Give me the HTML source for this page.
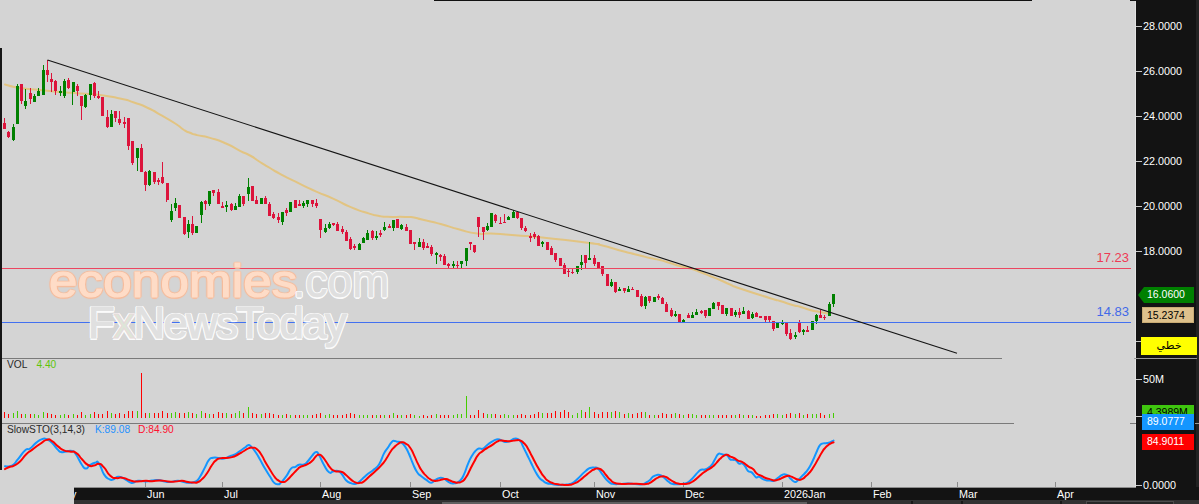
<!DOCTYPE html>
<html lang="en"><head><meta charset="utf-8"><title>Chart</title>
<style>
html,body{margin:0;padding:0;background:#d4d4d4;}
body{width:1199px;height:504px;overflow:hidden;position:relative;font-family:"Liberation Sans","DejaVu Sans",sans-serif;}
.abs{position:absolute;}
#chart{position:absolute;left:0;top:0;}
.ax{position:absolute;color:#fff;font-size:10.8px;line-height:12px;white-space:nowrap;}
.tag{position:absolute;font-size:10.5px;line-height:16px;text-align:left;padding-left:5px;white-space:nowrap;box-sizing:border-box;}
.lbl{position:absolute;font-size:10.2px;line-height:11px;white-space:nowrap;}
.wm{position:absolute;white-space:nowrap;transform-origin:left top;display:block;}
.wm1a{left:49px;top:256px;font-size:45.5px;line-height:52px;color:#fedcc7;-webkit-text-stroke:1.2px #fedcc7;text-shadow:1.50px 0.00px 0.9px #f6bc9c,1.06px 1.06px 0.9px #f6bc9c,0.00px 1.50px 0.9px #f6bc9c,-1.06px 1.06px 0.9px #f6bc9c,-1.50px 0.00px 0.9px #f6bc9c,-1.06px -1.06px 0.9px #f6bc9c,-0.00px -1.50px 0.9px #f6bc9c,1.06px -1.06px 0.9px #f6bc9c;transform:scaleX(1.12);letter-spacing:0.2px;}
.wm1b{left:293px;top:254px;font-size:47px;line-height:54px;color:#dfdfdf;-webkit-text-stroke:0.6px #dfdfdf;text-shadow:1.50px 0.00px 0.6px #fbfbfb,1.06px 1.06px 0.6px #fbfbfb,0.00px 1.50px 0.6px #fbfbfb,-1.06px 1.06px 0.6px #fbfbfb,-1.50px 0.00px 0.6px #fbfbfb,-1.06px -1.06px 0.6px #fbfbfb,-0.00px -1.50px 0.6px #fbfbfb,1.06px -1.06px 0.6px #fbfbfb;transform:scaleX(0.945);}
.wm2{left:88px;top:297px;font-size:43px;line-height:50px;color:#e0e0e0;-webkit-text-stroke:1.1px #e0e0e0;text-shadow:1.70px 0.00px 0.6px #fbfbfb,1.20px 1.20px 0.6px #fbfbfb,0.00px 1.70px 0.6px #fbfbfb,-1.20px 1.20px 0.6px #fbfbfb,-1.70px 0.00px 0.6px #fbfbfb,-1.20px -1.20px 0.6px #fbfbfb,-0.00px -1.70px 0.6px #fbfbfb,1.20px -1.20px 0.6px #fbfbfb;transform:scale(1.015,1.035);letter-spacing:-1.5px;}
.wm2 i{font-style:normal;color:#dde6d8;-webkit-text-stroke-color:#e6dada;}

</style></head><body>
<div class="abs" style="left:0;top:48px;width:2px;height:422px;background:#161616"></div>
<div class="abs" style="left:434px;top:0;width:598px;height:1px;background:#111"></div>
<div class="abs" style="left:1130px;top:0;width:69px;height:1px;background:#131313"></div>
<div class="abs" style="left:1136px;top:0;width:63px;height:504px;background:#131313"></div>
<div class="abs" style="left:1135px;top:1px;width:1px;height:486px;background:#e2e2e2"></div>
<div class="abs" style="left:1196px;top:0;width:3px;height:504px;background:#222"></div>
<div class="abs" style="left:74px;top:487px;width:1125px;height:17px;background:#131313"></div>
<div class="abs" style="left:74px;top:487px;width:1062px;height:1px;background:#8c8c8c"></div>
<div class="abs" style="left:74px;top:500px;width:1125px;height:4px;background:#323232"></div>
<div class="abs" style="left:442px;top:502px;width:365px;height:2px;background:#606060"></div>
<div class="abs" style="left:911px;top:501px;width:2px;height:3px;background:#181818"></div>
<div class="abs" style="left:961px;top:501px;width:2px;height:3px;background:#181818"></div>
<div class="abs" style="left:1060px;top:501px;width:2px;height:3px;background:#181818"></div>
<div class="abs" style="left:1086px;top:501px;width:88px;height:3px;background:#262626;border:1px solid #4c4c4c;border-bottom:none;box-sizing:border-box"></div>
<svg id="chart" width="1199" height="504" viewBox="0 0 1199 504">
<g shape-rendering="crispEdges">
<rect x="2" y="358" width="1000" height="1" fill="#7a7a7a"/>
<rect x="2" y="423" width="1012" height="1" fill="#7a7a7a"/>
<rect x="1134" y="358" width="63" height="1" fill="#9a9a9a"/>
<rect x="1130" y="423" width="6" height="1" fill="#7a7a7a"/>
<rect x="1195" y="423" width="4" height="1" fill="#9a9a9a"/>
</g>
<path d="M5.0 84.5C10.0 85.7 8.3 86.2 20.0 88.0C31.7 89.8 26.7 88.7 40.0 90.0C53.3 91.3 46.7 90.8 60.0 92.0C73.3 93.2 66.7 92.5 80.0 93.5C93.3 94.5 86.7 93.3 100.0 95.0C113.3 96.7 108.7 96.0 120.0 98.5C131.3 101.0 124.7 99.3 134.0 102.5C143.3 105.7 138.7 103.6 148.0 108.0C157.3 112.4 152.7 110.4 162.0 115.7C171.3 121.0 168.7 119.2 176.0 124.0C183.3 128.8 179.3 127.1 184.0 130.0C188.7 132.9 185.7 131.1 190.0 132.8C194.3 134.5 190.3 133.4 197.0 135.1C203.7 136.8 200.3 135.1 210.0 137.9C219.7 140.7 216.0 139.2 226.0 143.5C236.0 147.8 232.0 146.8 240.0 150.8C248.0 154.8 243.3 151.8 250.0 155.5C256.7 159.2 253.3 157.8 260.0 162.0C266.7 166.2 263.3 164.1 270.0 168.0C276.7 171.9 270.7 168.8 280.0 173.8C289.3 178.8 286.1 177.1 298.0 182.9C309.9 188.7 303.8 186.0 315.7 191.3C327.6 196.6 321.7 193.5 333.6 198.8C345.5 204.1 339.5 202.4 351.4 207.3C363.3 212.2 360.4 210.8 369.3 213.6C378.2 216.4 372.3 214.6 378.2 215.7C384.1 216.8 378.1 216.4 387.0 216.8C395.9 217.2 396.0 216.6 405.0 216.9C414.0 217.2 408.0 216.6 414.0 217.6C420.0 218.6 414.1 217.7 423.0 219.8C431.9 221.9 428.8 220.8 440.7 224.0C452.6 227.2 446.5 226.1 458.6 229.3C470.7 232.5 466.2 232.2 477.0 233.6C487.8 235.0 476.3 232.9 491.0 233.6C505.7 234.3 504.7 234.5 521.0 235.7C537.3 236.9 517.2 234.9 540.0 237.3C562.8 239.7 569.0 240.4 589.5 243.0C610.0 245.6 589.6 242.3 601.4 245.2C613.2 248.1 612.1 248.4 625.0 251.8C637.9 255.2 631.7 253.4 640.0 255.5C648.3 257.6 643.3 256.5 650.0 258.0C656.7 259.5 653.3 258.3 660.0 260.0C666.7 261.7 663.3 261.0 670.0 263.0C676.7 265.0 673.3 264.2 680.0 266.0C686.7 267.8 683.3 266.5 690.0 268.5C696.7 270.5 693.3 269.5 700.0 272.0C706.7 274.5 703.3 273.3 710.0 276.0C716.7 278.7 713.3 277.2 720.0 280.0C726.7 282.8 723.3 281.7 730.0 284.5C736.7 287.3 726.8 284.0 740.0 288.5C753.2 293.0 756.2 293.8 769.5 298.0C782.8 302.2 772.1 298.6 780.0 301.0C787.9 303.4 786.6 303.3 793.3 305.2C800.0 307.1 794.4 305.1 800.0 306.7C805.6 308.3 803.3 308.2 810.0 310.0C816.7 311.8 813.7 310.8 820.0 312.0C826.3 313.2 826.0 313.0 829.0 313.5" fill="none" stroke="#e2c482" stroke-width="2" stroke-linejoin="round" stroke-linecap="round"/>
<g shape-rendering="crispEdges">
<rect x="4" y="118" width="1" height="11" fill="#dc143c"/>
<rect x="3" y="123" width="3" height="6" fill="#dc143c"/>
<rect x="8" y="131" width="1" height="7" fill="#dc143c"/>
<rect x="7" y="132" width="3" height="5" fill="#dc143c"/>
<rect x="13" y="124" width="1" height="17" fill="#008000"/>
<rect x="12" y="127" width="3" height="13" fill="#008000"/>
<rect x="17" y="84" width="1" height="40" fill="#008000"/>
<rect x="16" y="86" width="3" height="38" fill="#008000"/>
<rect x="21" y="84" width="1" height="20" fill="#dc143c"/>
<rect x="20" y="84" width="3" height="17" fill="#dc143c"/>
<rect x="25" y="89" width="1" height="20" fill="#008000"/>
<rect x="24" y="101" width="3" height="5" fill="#008000"/>
<rect x="30" y="88" width="1" height="16" fill="#dc143c"/>
<rect x="29" y="93" width="3" height="6" fill="#dc143c"/>
<rect x="34" y="94" width="1" height="8" fill="#008000"/>
<rect x="33" y="96" width="3" height="6" fill="#008000"/>
<rect x="38" y="88" width="1" height="8" fill="#008000"/>
<rect x="37" y="91" width="3" height="5" fill="#008000"/>
<rect x="43" y="65" width="1" height="30" fill="#008000"/>
<rect x="42" y="70" width="3" height="25" fill="#008000"/>
<rect x="47" y="60" width="1" height="22" fill="#dc143c"/>
<rect x="46" y="70" width="3" height="5" fill="#dc143c"/>
<rect x="51" y="73" width="1" height="19" fill="#dc143c"/>
<rect x="50" y="79" width="3" height="3" fill="#dc143c"/>
<rect x="55" y="80" width="1" height="15" fill="#dc143c"/>
<rect x="54" y="81" width="3" height="10" fill="#dc143c"/>
<rect x="60" y="86" width="1" height="10" fill="#008000"/>
<rect x="59" y="91" width="3" height="2" fill="#008000"/>
<rect x="64" y="79" width="1" height="19" fill="#008000"/>
<rect x="63" y="81" width="3" height="15" fill="#008000"/>
<rect x="68" y="78" width="1" height="11" fill="#dc143c"/>
<rect x="67" y="80" width="3" height="8" fill="#dc143c"/>
<rect x="72" y="82" width="1" height="23" fill="#008000"/>
<rect x="72" y="82" width="3" height="10" fill="#008000"/>
<rect x="77" y="84" width="1" height="12" fill="#dc143c"/>
<rect x="76" y="86" width="3" height="5" fill="#dc143c"/>
<rect x="81" y="96" width="1" height="24" fill="#dc143c"/>
<rect x="80" y="96" width="3" height="10" fill="#dc143c"/>
<rect x="85" y="94" width="1" height="14" fill="#008000"/>
<rect x="84" y="95" width="3" height="12" fill="#008000"/>
<rect x="90" y="84" width="1" height="16" fill="#008000"/>
<rect x="89" y="84" width="3" height="11" fill="#008000"/>
<rect x="94" y="82" width="1" height="16" fill="#dc143c"/>
<rect x="93" y="83" width="3" height="13" fill="#dc143c"/>
<rect x="98" y="91" width="1" height="8" fill="#dc143c"/>
<rect x="97" y="96" width="3" height="2" fill="#dc143c"/>
<rect x="102" y="97" width="1" height="19" fill="#dc143c"/>
<rect x="101" y="97" width="3" height="19" fill="#dc143c"/>
<rect x="107" y="110" width="1" height="18" fill="#dc143c"/>
<rect x="106" y="117" width="3" height="10" fill="#dc143c"/>
<rect x="111" y="110" width="1" height="17" fill="#008000"/>
<rect x="110" y="114" width="3" height="13" fill="#008000"/>
<rect x="115" y="111" width="1" height="11" fill="#dc143c"/>
<rect x="114" y="111" width="3" height="7" fill="#dc143c"/>
<rect x="119" y="111" width="1" height="14" fill="#dc143c"/>
<rect x="118" y="119" width="3" height="4" fill="#dc143c"/>
<rect x="124" y="117" width="1" height="11" fill="#dc143c"/>
<rect x="123" y="122" width="3" height="2" fill="#dc143c"/>
<rect x="128" y="118" width="1" height="32" fill="#dc143c"/>
<rect x="127" y="118" width="3" height="28" fill="#dc143c"/>
<rect x="132" y="141" width="1" height="24" fill="#dc143c"/>
<rect x="131" y="141" width="3" height="22" fill="#dc143c"/>
<rect x="137" y="148" width="1" height="23" fill="#008000"/>
<rect x="136" y="148" width="3" height="10" fill="#008000"/>
<rect x="141" y="144" width="1" height="28" fill="#dc143c"/>
<rect x="140" y="148" width="3" height="24" fill="#dc143c"/>
<rect x="145" y="171" width="1" height="20" fill="#dc143c"/>
<rect x="144" y="172" width="3" height="13" fill="#dc143c"/>
<rect x="149" y="170" width="1" height="16" fill="#008000"/>
<rect x="148" y="171" width="3" height="14" fill="#008000"/>
<rect x="154" y="172" width="1" height="12" fill="#dc143c"/>
<rect x="153" y="172" width="3" height="10" fill="#dc143c"/>
<rect x="158" y="178" width="1" height="7" fill="#dc143c"/>
<rect x="157" y="180" width="3" height="2" fill="#dc143c"/>
<rect x="162" y="162" width="1" height="22" fill="#dc143c"/>
<rect x="161" y="177" width="3" height="6" fill="#dc143c"/>
<rect x="166" y="183" width="1" height="19" fill="#dc143c"/>
<rect x="166" y="183" width="3" height="17" fill="#dc143c"/>
<rect x="171" y="204" width="1" height="18" fill="#008000"/>
<rect x="170" y="211" width="3" height="9" fill="#008000"/>
<rect x="175" y="198" width="1" height="13" fill="#008000"/>
<rect x="174" y="203" width="3" height="5" fill="#008000"/>
<rect x="179" y="205" width="1" height="13" fill="#dc143c"/>
<rect x="178" y="205" width="3" height="13" fill="#dc143c"/>
<rect x="184" y="217" width="1" height="18" fill="#dc143c"/>
<rect x="183" y="217" width="3" height="17" fill="#dc143c"/>
<rect x="188" y="220" width="1" height="18" fill="#008000"/>
<rect x="187" y="224" width="3" height="8" fill="#008000"/>
<rect x="192" y="216" width="1" height="19" fill="#dc143c"/>
<rect x="191" y="224" width="3" height="9" fill="#dc143c"/>
<rect x="196" y="226" width="1" height="7" fill="#008000"/>
<rect x="195" y="226" width="3" height="7" fill="#008000"/>
<rect x="201" y="201" width="1" height="22" fill="#008000"/>
<rect x="200" y="202" width="3" height="13" fill="#008000"/>
<rect x="205" y="200" width="1" height="10" fill="#dc143c"/>
<rect x="204" y="201" width="3" height="3" fill="#dc143c"/>
<rect x="209" y="191" width="1" height="15" fill="#008000"/>
<rect x="208" y="191" width="3" height="13" fill="#008000"/>
<rect x="213" y="190" width="1" height="6" fill="#dc143c"/>
<rect x="212" y="190" width="3" height="3" fill="#dc143c"/>
<rect x="218" y="189" width="1" height="15" fill="#dc143c"/>
<rect x="217" y="192" width="3" height="12" fill="#dc143c"/>
<rect x="222" y="202" width="1" height="6" fill="#dc143c"/>
<rect x="221" y="206" width="3" height="2" fill="#dc143c"/>
<rect x="226" y="201" width="1" height="11" fill="#008000"/>
<rect x="225" y="205" width="3" height="2" fill="#008000"/>
<rect x="231" y="203" width="1" height="8" fill="#dc143c"/>
<rect x="230" y="204" width="3" height="6" fill="#dc143c"/>
<rect x="235" y="203" width="1" height="7" fill="#008000"/>
<rect x="234" y="206" width="3" height="4" fill="#008000"/>
<rect x="239" y="194" width="1" height="13" fill="#008000"/>
<rect x="238" y="196" width="3" height="11" fill="#008000"/>
<rect x="243" y="196" width="1" height="10" fill="#dc143c"/>
<rect x="242" y="196" width="3" height="8" fill="#dc143c"/>
<rect x="248" y="178" width="1" height="23" fill="#008000"/>
<rect x="247" y="187" width="3" height="7" fill="#008000"/>
<rect x="252" y="186" width="1" height="15" fill="#dc143c"/>
<rect x="251" y="186" width="3" height="15" fill="#dc143c"/>
<rect x="256" y="196" width="1" height="8" fill="#dc143c"/>
<rect x="255" y="200" width="3" height="4" fill="#dc143c"/>
<rect x="260" y="198" width="1" height="6" fill="#008000"/>
<rect x="260" y="198" width="3" height="6" fill="#008000"/>
<rect x="265" y="196" width="1" height="8" fill="#dc143c"/>
<rect x="264" y="198" width="3" height="6" fill="#dc143c"/>
<rect x="269" y="202" width="1" height="14" fill="#dc143c"/>
<rect x="268" y="204" width="3" height="12" fill="#dc143c"/>
<rect x="273" y="212" width="1" height="7" fill="#dc143c"/>
<rect x="272" y="214" width="3" height="4" fill="#dc143c"/>
<rect x="278" y="213" width="1" height="10" fill="#dc143c"/>
<rect x="277" y="217" width="3" height="3" fill="#dc143c"/>
<rect x="282" y="212" width="1" height="13" fill="#008000"/>
<rect x="281" y="212" width="3" height="10" fill="#008000"/>
<rect x="286" y="208" width="1" height="8" fill="#dc143c"/>
<rect x="285" y="210" width="3" height="3" fill="#dc143c"/>
<rect x="290" y="202" width="1" height="10" fill="#008000"/>
<rect x="289" y="202" width="3" height="10" fill="#008000"/>
<rect x="295" y="200" width="1" height="8" fill="#dc143c"/>
<rect x="294" y="200" width="3" height="8" fill="#dc143c"/>
<rect x="299" y="200" width="1" height="6" fill="#dc143c"/>
<rect x="298" y="204" width="3" height="2" fill="#dc143c"/>
<rect x="303" y="201" width="1" height="7" fill="#008000"/>
<rect x="302" y="203" width="3" height="3" fill="#008000"/>
<rect x="307" y="200" width="1" height="7" fill="#008000"/>
<rect x="306" y="200" width="3" height="4" fill="#008000"/>
<rect x="312" y="200" width="1" height="7" fill="#dc143c"/>
<rect x="311" y="200" width="3" height="4" fill="#dc143c"/>
<rect x="316" y="199" width="1" height="9" fill="#dc143c"/>
<rect x="315" y="203" width="3" height="3" fill="#dc143c"/>
<rect x="320" y="219" width="1" height="19" fill="#dc143c"/>
<rect x="319" y="219" width="3" height="11" fill="#dc143c"/>
<rect x="325" y="224" width="1" height="9" fill="#008000"/>
<rect x="324" y="228" width="3" height="4" fill="#008000"/>
<rect x="329" y="222" width="1" height="7" fill="#008000"/>
<rect x="328" y="224" width="3" height="4" fill="#008000"/>
<rect x="333" y="223" width="1" height="3" fill="#dc143c"/>
<rect x="332" y="223" width="3" height="2" fill="#dc143c"/>
<rect x="337" y="222" width="1" height="9" fill="#dc143c"/>
<rect x="336" y="224" width="3" height="7" fill="#dc143c"/>
<rect x="342" y="226" width="1" height="8" fill="#dc143c"/>
<rect x="341" y="229" width="3" height="3" fill="#dc143c"/>
<rect x="346" y="230" width="1" height="11" fill="#dc143c"/>
<rect x="345" y="232" width="3" height="9" fill="#dc143c"/>
<rect x="350" y="237" width="1" height="13" fill="#dc143c"/>
<rect x="349" y="239" width="3" height="10" fill="#dc143c"/>
<rect x="354" y="244" width="1" height="6" fill="#dc143c"/>
<rect x="353" y="246" width="3" height="2" fill="#dc143c"/>
<rect x="359" y="243" width="1" height="7" fill="#008000"/>
<rect x="358" y="244" width="3" height="6" fill="#008000"/>
<rect x="363" y="237" width="1" height="6" fill="#008000"/>
<rect x="362" y="238" width="3" height="5" fill="#008000"/>
<rect x="367" y="230" width="1" height="10" fill="#008000"/>
<rect x="366" y="233" width="3" height="7" fill="#008000"/>
<rect x="372" y="230" width="1" height="10" fill="#dc143c"/>
<rect x="371" y="231" width="3" height="7" fill="#dc143c"/>
<rect x="376" y="231" width="1" height="9" fill="#008000"/>
<rect x="375" y="236" width="3" height="2" fill="#008000"/>
<rect x="380" y="230" width="1" height="7" fill="#dc143c"/>
<rect x="379" y="233" width="3" height="2" fill="#dc143c"/>
<rect x="384" y="222" width="1" height="9" fill="#008000"/>
<rect x="383" y="227" width="3" height="3" fill="#008000"/>
<rect x="389" y="224" width="1" height="4" fill="#dc143c"/>
<rect x="388" y="226" width="3" height="2" fill="#dc143c"/>
<rect x="393" y="220" width="1" height="11" fill="#008000"/>
<rect x="392" y="220" width="3" height="8" fill="#008000"/>
<rect x="397" y="219" width="1" height="9" fill="#dc143c"/>
<rect x="396" y="219" width="3" height="9" fill="#dc143c"/>
<rect x="401" y="224" width="1" height="6" fill="#008000"/>
<rect x="400" y="225" width="3" height="4" fill="#008000"/>
<rect x="406" y="224" width="1" height="7" fill="#dc143c"/>
<rect x="405" y="227" width="3" height="4" fill="#dc143c"/>
<rect x="410" y="230" width="1" height="14" fill="#dc143c"/>
<rect x="409" y="230" width="3" height="14" fill="#dc143c"/>
<rect x="414" y="242" width="1" height="8" fill="#dc143c"/>
<rect x="413" y="242" width="3" height="2" fill="#dc143c"/>
<rect x="419" y="238" width="1" height="9" fill="#008000"/>
<rect x="418" y="242" width="3" height="5" fill="#008000"/>
<rect x="423" y="239" width="1" height="11" fill="#dc143c"/>
<rect x="422" y="242" width="3" height="6" fill="#dc143c"/>
<rect x="427" y="243" width="1" height="5" fill="#dc143c"/>
<rect x="426" y="246" width="3" height="2" fill="#dc143c"/>
<rect x="431" y="245" width="1" height="11" fill="#dc143c"/>
<rect x="430" y="247" width="3" height="7" fill="#dc143c"/>
<rect x="436" y="252" width="1" height="12" fill="#008000"/>
<rect x="435" y="253" width="3" height="2" fill="#008000"/>
<rect x="440" y="254" width="1" height="7" fill="#dc143c"/>
<rect x="439" y="255" width="3" height="2" fill="#dc143c"/>
<rect x="444" y="254" width="1" height="11" fill="#dc143c"/>
<rect x="443" y="256" width="3" height="9" fill="#dc143c"/>
<rect x="448" y="263" width="1" height="5" fill="#dc143c"/>
<rect x="447" y="264" width="3" height="2" fill="#dc143c"/>
<rect x="453" y="261" width="1" height="7" fill="#008000"/>
<rect x="452" y="264" width="3" height="2" fill="#008000"/>
<rect x="457" y="261" width="1" height="7" fill="#dc143c"/>
<rect x="456" y="265" width="3" height="1" fill="#dc143c"/>
<rect x="461" y="261" width="1" height="7" fill="#008000"/>
<rect x="460" y="261" width="3" height="3" fill="#008000"/>
<rect x="466" y="248" width="1" height="18" fill="#008000"/>
<rect x="465" y="248" width="3" height="13" fill="#008000"/>
<rect x="470" y="242" width="1" height="8" fill="#dc143c"/>
<rect x="469" y="242" width="3" height="2" fill="#dc143c"/>
<rect x="474" y="245" width="1" height="8" fill="#dc143c"/>
<rect x="473" y="245" width="3" height="7" fill="#dc143c"/>
<rect x="478" y="217" width="1" height="20" fill="#dc143c"/>
<rect x="477" y="217" width="3" height="10" fill="#dc143c"/>
<rect x="483" y="227" width="1" height="13" fill="#dc143c"/>
<rect x="482" y="227" width="3" height="5" fill="#dc143c"/>
<rect x="487" y="223" width="1" height="8" fill="#008000"/>
<rect x="486" y="226" width="3" height="4" fill="#008000"/>
<rect x="491" y="213" width="1" height="14" fill="#008000"/>
<rect x="490" y="213" width="3" height="14" fill="#008000"/>
<rect x="495" y="214" width="1" height="9" fill="#dc143c"/>
<rect x="494" y="215" width="3" height="6" fill="#dc143c"/>
<rect x="500" y="217" width="1" height="7" fill="#dc143c"/>
<rect x="499" y="223" width="3" height="1" fill="#dc143c"/>
<rect x="504" y="214" width="1" height="9" fill="#dc143c"/>
<rect x="503" y="222" width="3" height="1" fill="#dc143c"/>
<rect x="508" y="216" width="1" height="4" fill="#008000"/>
<rect x="507" y="217" width="3" height="3" fill="#008000"/>
<rect x="513" y="210" width="1" height="8" fill="#008000"/>
<rect x="512" y="212" width="3" height="6" fill="#008000"/>
<rect x="517" y="212" width="1" height="7" fill="#dc143c"/>
<rect x="516" y="212" width="3" height="6" fill="#dc143c"/>
<rect x="521" y="218" width="1" height="12" fill="#dc143c"/>
<rect x="520" y="218" width="3" height="10" fill="#dc143c"/>
<rect x="525" y="226" width="1" height="6" fill="#dc143c"/>
<rect x="524" y="228" width="3" height="3" fill="#dc143c"/>
<rect x="530" y="233" width="1" height="9" fill="#dc143c"/>
<rect x="529" y="236" width="3" height="2" fill="#dc143c"/>
<rect x="534" y="232" width="1" height="7" fill="#dc143c"/>
<rect x="533" y="234" width="3" height="3" fill="#dc143c"/>
<rect x="538" y="235" width="1" height="11" fill="#dc143c"/>
<rect x="537" y="236" width="3" height="10" fill="#dc143c"/>
<rect x="542" y="241" width="1" height="6" fill="#008000"/>
<rect x="541" y="242" width="3" height="2" fill="#008000"/>
<rect x="547" y="242" width="1" height="8" fill="#dc143c"/>
<rect x="546" y="242" width="3" height="8" fill="#dc143c"/>
<rect x="551" y="246" width="1" height="9" fill="#dc143c"/>
<rect x="550" y="248" width="3" height="7" fill="#dc143c"/>
<rect x="555" y="253" width="1" height="9" fill="#dc143c"/>
<rect x="554" y="253" width="3" height="7" fill="#dc143c"/>
<rect x="560" y="258" width="1" height="8" fill="#dc143c"/>
<rect x="559" y="258" width="3" height="8" fill="#dc143c"/>
<rect x="564" y="263" width="1" height="11" fill="#dc143c"/>
<rect x="563" y="265" width="3" height="9" fill="#dc143c"/>
<rect x="568" y="268" width="1" height="9" fill="#dc143c"/>
<rect x="567" y="271" width="3" height="1" fill="#dc143c"/>
<rect x="572" y="268" width="1" height="6" fill="#dc143c"/>
<rect x="571" y="272" width="3" height="1" fill="#dc143c"/>
<rect x="577" y="266" width="1" height="8" fill="#008000"/>
<rect x="576" y="266" width="3" height="6" fill="#008000"/>
<rect x="581" y="255" width="1" height="15" fill="#008000"/>
<rect x="580" y="262" width="3" height="3" fill="#008000"/>
<rect x="585" y="255" width="1" height="13" fill="#dc143c"/>
<rect x="584" y="255" width="3" height="8" fill="#dc143c"/>
<rect x="589" y="242" width="1" height="18" fill="#008000"/>
<rect x="588" y="258" width="3" height="2" fill="#008000"/>
<rect x="594" y="255" width="1" height="11" fill="#dc143c"/>
<rect x="593" y="258" width="3" height="6" fill="#dc143c"/>
<rect x="598" y="262" width="1" height="6" fill="#dc143c"/>
<rect x="597" y="262" width="3" height="6" fill="#dc143c"/>
<rect x="602" y="266" width="1" height="10" fill="#dc143c"/>
<rect x="601" y="266" width="3" height="8" fill="#dc143c"/>
<rect x="607" y="274" width="1" height="12" fill="#dc143c"/>
<rect x="606" y="274" width="3" height="12" fill="#dc143c"/>
<rect x="611" y="279" width="1" height="8" fill="#008000"/>
<rect x="610" y="282" width="3" height="4" fill="#008000"/>
<rect x="615" y="282" width="1" height="11" fill="#dc143c"/>
<rect x="614" y="282" width="3" height="10" fill="#dc143c"/>
<rect x="619" y="287" width="1" height="4" fill="#008000"/>
<rect x="618" y="289" width="3" height="2" fill="#008000"/>
<rect x="624" y="288" width="1" height="5" fill="#dc143c"/>
<rect x="623" y="288" width="3" height="3" fill="#dc143c"/>
<rect x="628" y="286" width="1" height="6" fill="#008000"/>
<rect x="627" y="289" width="3" height="3" fill="#008000"/>
<rect x="632" y="287" width="1" height="3" fill="#dc143c"/>
<rect x="631" y="289" width="3" height="1" fill="#dc143c"/>
<rect x="636" y="290" width="1" height="7" fill="#dc143c"/>
<rect x="636" y="290" width="3" height="7" fill="#dc143c"/>
<rect x="641" y="294" width="1" height="13" fill="#dc143c"/>
<rect x="640" y="296" width="3" height="10" fill="#dc143c"/>
<rect x="645" y="296" width="1" height="13" fill="#008000"/>
<rect x="644" y="297" width="3" height="9" fill="#008000"/>
<rect x="649" y="296" width="1" height="7" fill="#dc143c"/>
<rect x="648" y="296" width="3" height="5" fill="#dc143c"/>
<rect x="654" y="297" width="1" height="5" fill="#008000"/>
<rect x="653" y="297" width="3" height="5" fill="#008000"/>
<rect x="658" y="294" width="1" height="6" fill="#dc143c"/>
<rect x="657" y="296" width="3" height="2" fill="#dc143c"/>
<rect x="662" y="297" width="1" height="7" fill="#dc143c"/>
<rect x="661" y="298" width="3" height="6" fill="#dc143c"/>
<rect x="666" y="302" width="1" height="10" fill="#dc143c"/>
<rect x="665" y="304" width="3" height="8" fill="#dc143c"/>
<rect x="671" y="308" width="1" height="9" fill="#dc143c"/>
<rect x="670" y="310" width="3" height="6" fill="#dc143c"/>
<rect x="675" y="311" width="1" height="6" fill="#008000"/>
<rect x="674" y="314" width="3" height="2" fill="#008000"/>
<rect x="679" y="314" width="1" height="8" fill="#dc143c"/>
<rect x="678" y="314" width="3" height="8" fill="#dc143c"/>
<rect x="683" y="319" width="1" height="3" fill="#008000"/>
<rect x="682" y="320" width="3" height="2" fill="#008000"/>
<rect x="688" y="313" width="1" height="5" fill="#dc143c"/>
<rect x="687" y="315" width="3" height="3" fill="#dc143c"/>
<rect x="692" y="312" width="1" height="6" fill="#008000"/>
<rect x="691" y="315" width="3" height="3" fill="#008000"/>
<rect x="696" y="309" width="1" height="6" fill="#008000"/>
<rect x="695" y="312" width="3" height="3" fill="#008000"/>
<rect x="701" y="310" width="1" height="4" fill="#dc143c"/>
<rect x="700" y="311" width="3" height="2" fill="#dc143c"/>
<rect x="705" y="310" width="1" height="8" fill="#dc143c"/>
<rect x="704" y="310" width="3" height="6" fill="#dc143c"/>
<rect x="709" y="308" width="1" height="8" fill="#008000"/>
<rect x="708" y="308" width="3" height="8" fill="#008000"/>
<rect x="713" y="302" width="1" height="7" fill="#008000"/>
<rect x="712" y="303" width="3" height="6" fill="#008000"/>
<rect x="718" y="302" width="1" height="8" fill="#dc143c"/>
<rect x="717" y="302" width="3" height="4" fill="#dc143c"/>
<rect x="722" y="305" width="1" height="9" fill="#dc143c"/>
<rect x="721" y="305" width="3" height="9" fill="#dc143c"/>
<rect x="726" y="308" width="1" height="8" fill="#008000"/>
<rect x="725" y="308" width="3" height="6" fill="#008000"/>
<rect x="730" y="308" width="1" height="8" fill="#dc143c"/>
<rect x="730" y="308" width="3" height="8" fill="#dc143c"/>
<rect x="735" y="310" width="1" height="7" fill="#008000"/>
<rect x="734" y="312" width="3" height="3" fill="#008000"/>
<rect x="739" y="308" width="1" height="10" fill="#dc143c"/>
<rect x="738" y="312" width="3" height="3" fill="#dc143c"/>
<rect x="743" y="307" width="1" height="7" fill="#008000"/>
<rect x="742" y="311" width="3" height="3" fill="#008000"/>
<rect x="748" y="310" width="1" height="9" fill="#dc143c"/>
<rect x="747" y="311" width="3" height="8" fill="#dc143c"/>
<rect x="752" y="312" width="1" height="7" fill="#008000"/>
<rect x="751" y="314" width="3" height="4" fill="#008000"/>
<rect x="756" y="312" width="1" height="5" fill="#dc143c"/>
<rect x="755" y="313" width="3" height="4" fill="#dc143c"/>
<rect x="760" y="316" width="1" height="2" fill="#dc143c"/>
<rect x="759" y="316" width="3" height="2" fill="#dc143c"/>
<rect x="765" y="316" width="1" height="6" fill="#dc143c"/>
<rect x="764" y="316" width="3" height="4" fill="#dc143c"/>
<rect x="769" y="316" width="1" height="6" fill="#dc143c"/>
<rect x="768" y="316" width="3" height="4" fill="#dc143c"/>
<rect x="773" y="321" width="1" height="10" fill="#dc143c"/>
<rect x="772" y="321" width="3" height="8" fill="#dc143c"/>
<rect x="777" y="322" width="1" height="6" fill="#008000"/>
<rect x="776" y="323" width="3" height="5" fill="#008000"/>
<rect x="782" y="320" width="1" height="5" fill="#008000"/>
<rect x="781" y="322" width="3" height="2" fill="#008000"/>
<rect x="786" y="323" width="1" height="13" fill="#dc143c"/>
<rect x="785" y="323" width="3" height="11" fill="#dc143c"/>
<rect x="790" y="329" width="1" height="11" fill="#dc143c"/>
<rect x="789" y="333" width="3" height="6" fill="#dc143c"/>
<rect x="795" y="332" width="1" height="7" fill="#008000"/>
<rect x="794" y="335" width="3" height="2" fill="#008000"/>
<rect x="799" y="320" width="1" height="13" fill="#dc143c"/>
<rect x="798" y="323" width="3" height="9" fill="#dc143c"/>
<rect x="803" y="329" width="1" height="6" fill="#008000"/>
<rect x="802" y="330" width="3" height="2" fill="#008000"/>
<rect x="807" y="326" width="1" height="6" fill="#dc143c"/>
<rect x="806" y="330" width="3" height="2" fill="#dc143c"/>
<rect x="812" y="321" width="1" height="9" fill="#008000"/>
<rect x="811" y="321" width="3" height="9" fill="#008000"/>
<rect x="816" y="314" width="1" height="10" fill="#008000"/>
<rect x="815" y="315" width="3" height="6" fill="#008000"/>
<rect x="820" y="310" width="1" height="8" fill="#dc143c"/>
<rect x="819" y="315" width="3" height="3" fill="#dc143c"/>
<rect x="824" y="315" width="1" height="5" fill="#dc143c"/>
<rect x="823" y="317" width="3" height="1" fill="#dc143c"/>
<rect x="829" y="302" width="1" height="14" fill="#008000"/>
<rect x="828" y="304" width="3" height="12" fill="#008000"/>
<rect x="833" y="294" width="1" height="13" fill="#008000"/>
<rect x="832" y="294" width="3" height="10" fill="#008000"/>
</g>
<g shape-rendering="crispEdges">
<rect x="2" y="268" width="1129" height="1" fill="#ec4660"/>
<rect x="2" y="322" width="1129" height="1" fill="#4270f0"/>
</g>
<line x1="47.5" y1="60" x2="957" y2="353.3" stroke="#141414" stroke-width="1.1"/>
<g shape-rendering="crispEdges">
<rect x="4" y="412" width="1" height="6" fill="#ff0000"/>
<rect x="8" y="414" width="1" height="4" fill="#ff0000"/>
<rect x="13" y="413" width="1" height="5" fill="#44cc00"/>
<rect x="17" y="411" width="1" height="7" fill="#44cc00"/>
<rect x="21" y="414" width="1" height="4" fill="#ff0000"/>
<rect x="25" y="414" width="1" height="4" fill="#44cc00"/>
<rect x="30" y="414" width="1" height="4" fill="#ff0000"/>
<rect x="34" y="414" width="1" height="4" fill="#44cc00"/>
<rect x="38" y="415" width="1" height="3" fill="#44cc00"/>
<rect x="43" y="412" width="1" height="6" fill="#44cc00"/>
<rect x="47" y="413" width="1" height="5" fill="#ff0000"/>
<rect x="51" y="414" width="1" height="4" fill="#ff0000"/>
<rect x="55" y="415" width="1" height="3" fill="#ff0000"/>
<rect x="60" y="415" width="1" height="3" fill="#44cc00"/>
<rect x="64" y="414" width="1" height="4" fill="#44cc00"/>
<rect x="68" y="415" width="1" height="3" fill="#ff0000"/>
<rect x="73" y="414" width="1" height="4" fill="#44cc00"/>
<rect x="77" y="415" width="1" height="3" fill="#ff0000"/>
<rect x="81" y="412" width="1" height="6" fill="#ff0000"/>
<rect x="85" y="415" width="1" height="3" fill="#44cc00"/>
<rect x="90" y="414" width="1" height="4" fill="#44cc00"/>
<rect x="94" y="412" width="1" height="6" fill="#ff0000"/>
<rect x="98" y="414" width="1" height="4" fill="#ff0000"/>
<rect x="102" y="414" width="1" height="4" fill="#ff0000"/>
<rect x="107" y="411" width="1" height="7" fill="#ff0000"/>
<rect x="111" y="413" width="1" height="5" fill="#44cc00"/>
<rect x="115" y="414" width="1" height="4" fill="#ff0000"/>
<rect x="119" y="413" width="1" height="5" fill="#ff0000"/>
<rect x="124" y="414" width="1" height="4" fill="#ff0000"/>
<rect x="128" y="411" width="1" height="7" fill="#ff0000"/>
<rect x="132" y="411" width="1" height="7" fill="#ff0000"/>
<rect x="137" y="411" width="1" height="7" fill="#44cc00"/>
<rect x="141" y="373" width="1" height="45" fill="#ff0000"/>
<rect x="145" y="413" width="1" height="5" fill="#ff0000"/>
<rect x="149" y="413" width="1" height="5" fill="#44cc00"/>
<rect x="154" y="413" width="1" height="5" fill="#ff0000"/>
<rect x="158" y="413" width="1" height="5" fill="#ff0000"/>
<rect x="162" y="411" width="1" height="7" fill="#ff0000"/>
<rect x="167" y="413" width="1" height="5" fill="#ff0000"/>
<rect x="171" y="413" width="1" height="5" fill="#44cc00"/>
<rect x="175" y="412" width="1" height="6" fill="#44cc00"/>
<rect x="179" y="413" width="1" height="5" fill="#ff0000"/>
<rect x="184" y="413" width="1" height="5" fill="#ff0000"/>
<rect x="188" y="412" width="1" height="6" fill="#44cc00"/>
<rect x="192" y="413" width="1" height="5" fill="#ff0000"/>
<rect x="196" y="414" width="1" height="4" fill="#44cc00"/>
<rect x="201" y="411" width="1" height="7" fill="#44cc00"/>
<rect x="205" y="413" width="1" height="5" fill="#ff0000"/>
<rect x="209" y="414" width="1" height="4" fill="#44cc00"/>
<rect x="213" y="414" width="1" height="4" fill="#ff0000"/>
<rect x="218" y="412" width="1" height="6" fill="#ff0000"/>
<rect x="222" y="413" width="1" height="5" fill="#ff0000"/>
<rect x="226" y="413" width="1" height="5" fill="#44cc00"/>
<rect x="231" y="414" width="1" height="4" fill="#ff0000"/>
<rect x="235" y="413" width="1" height="5" fill="#44cc00"/>
<rect x="239" y="411" width="1" height="7" fill="#44cc00"/>
<rect x="243" y="413" width="1" height="5" fill="#ff0000"/>
<rect x="248" y="407" width="1" height="11" fill="#44cc00"/>
<rect x="252" y="413" width="1" height="5" fill="#ff0000"/>
<rect x="256" y="414" width="1" height="4" fill="#ff0000"/>
<rect x="261" y="414" width="1" height="4" fill="#44cc00"/>
<rect x="265" y="413" width="1" height="5" fill="#ff0000"/>
<rect x="269" y="413" width="1" height="5" fill="#ff0000"/>
<rect x="273" y="414" width="1" height="4" fill="#ff0000"/>
<rect x="278" y="415" width="1" height="3" fill="#ff0000"/>
<rect x="282" y="415" width="1" height="3" fill="#44cc00"/>
<rect x="286" y="414" width="1" height="4" fill="#ff0000"/>
<rect x="290" y="415" width="1" height="3" fill="#44cc00"/>
<rect x="295" y="415" width="1" height="3" fill="#ff0000"/>
<rect x="299" y="415" width="1" height="3" fill="#ff0000"/>
<rect x="303" y="415" width="1" height="3" fill="#44cc00"/>
<rect x="307" y="415" width="1" height="3" fill="#44cc00"/>
<rect x="312" y="415" width="1" height="3" fill="#ff0000"/>
<rect x="316" y="414" width="1" height="4" fill="#ff0000"/>
<rect x="320" y="413" width="1" height="5" fill="#ff0000"/>
<rect x="325" y="415" width="1" height="3" fill="#44cc00"/>
<rect x="329" y="414" width="1" height="4" fill="#44cc00"/>
<rect x="333" y="415" width="1" height="3" fill="#ff0000"/>
<rect x="337" y="415" width="1" height="3" fill="#ff0000"/>
<rect x="342" y="415" width="1" height="3" fill="#ff0000"/>
<rect x="346" y="414" width="1" height="4" fill="#ff0000"/>
<rect x="350" y="413" width="1" height="5" fill="#ff0000"/>
<rect x="354" y="414" width="1" height="4" fill="#ff0000"/>
<rect x="359" y="415" width="1" height="3" fill="#44cc00"/>
<rect x="363" y="415" width="1" height="3" fill="#44cc00"/>
<rect x="367" y="415" width="1" height="3" fill="#44cc00"/>
<rect x="372" y="415" width="1" height="3" fill="#ff0000"/>
<rect x="376" y="415" width="1" height="3" fill="#44cc00"/>
<rect x="380" y="415" width="1" height="3" fill="#ff0000"/>
<rect x="384" y="415" width="1" height="3" fill="#44cc00"/>
<rect x="389" y="415" width="1" height="3" fill="#ff0000"/>
<rect x="393" y="413" width="1" height="5" fill="#44cc00"/>
<rect x="397" y="415" width="1" height="3" fill="#ff0000"/>
<rect x="401" y="415" width="1" height="3" fill="#44cc00"/>
<rect x="406" y="415" width="1" height="3" fill="#ff0000"/>
<rect x="410" y="414" width="1" height="4" fill="#ff0000"/>
<rect x="414" y="415" width="1" height="3" fill="#44cc00"/>
<rect x="419" y="416" width="1" height="2" fill="#44cc00"/>
<rect x="423" y="415" width="1" height="3" fill="#ff0000"/>
<rect x="427" y="416" width="1" height="2" fill="#ff0000"/>
<rect x="431" y="415" width="1" height="3" fill="#ff0000"/>
<rect x="436" y="414" width="1" height="4" fill="#44cc00"/>
<rect x="440" y="415" width="1" height="3" fill="#ff0000"/>
<rect x="444" y="415" width="1" height="3" fill="#ff0000"/>
<rect x="448" y="415" width="1" height="3" fill="#ff0000"/>
<rect x="453" y="415" width="1" height="3" fill="#44cc00"/>
<rect x="457" y="414" width="1" height="4" fill="#44cc00"/>
<rect x="461" y="414" width="1" height="4" fill="#44cc00"/>
<rect x="466" y="396" width="1" height="22" fill="#44cc00"/>
<rect x="470" y="415" width="1" height="3" fill="#ff0000"/>
<rect x="474" y="415" width="1" height="3" fill="#ff0000"/>
<rect x="478" y="410" width="1" height="8" fill="#ff0000"/>
<rect x="483" y="413" width="1" height="5" fill="#ff0000"/>
<rect x="487" y="414" width="1" height="4" fill="#44cc00"/>
<rect x="491" y="414" width="1" height="4" fill="#44cc00"/>
<rect x="495" y="414" width="1" height="4" fill="#ff0000"/>
<rect x="500" y="415" width="1" height="3" fill="#ff0000"/>
<rect x="504" y="414" width="1" height="4" fill="#44cc00"/>
<rect x="508" y="415" width="1" height="3" fill="#44cc00"/>
<rect x="513" y="415" width="1" height="3" fill="#44cc00"/>
<rect x="517" y="415" width="1" height="3" fill="#ff0000"/>
<rect x="521" y="414" width="1" height="4" fill="#ff0000"/>
<rect x="525" y="415" width="1" height="3" fill="#ff0000"/>
<rect x="530" y="415" width="1" height="3" fill="#ff0000"/>
<rect x="534" y="414" width="1" height="4" fill="#ff0000"/>
<rect x="538" y="412" width="1" height="6" fill="#ff0000"/>
<rect x="542" y="413" width="1" height="5" fill="#44cc00"/>
<rect x="547" y="413" width="1" height="5" fill="#ff0000"/>
<rect x="551" y="413" width="1" height="5" fill="#ff0000"/>
<rect x="555" y="411" width="1" height="7" fill="#ff0000"/>
<rect x="560" y="412" width="1" height="6" fill="#ff0000"/>
<rect x="564" y="410" width="1" height="8" fill="#ff0000"/>
<rect x="568" y="412" width="1" height="6" fill="#ff0000"/>
<rect x="572" y="415" width="1" height="3" fill="#44cc00"/>
<rect x="577" y="413" width="1" height="5" fill="#44cc00"/>
<rect x="581" y="410" width="1" height="8" fill="#44cc00"/>
<rect x="585" y="412" width="1" height="6" fill="#ff0000"/>
<rect x="589" y="407" width="1" height="11" fill="#44cc00"/>
<rect x="594" y="412" width="1" height="6" fill="#ff0000"/>
<rect x="598" y="414" width="1" height="4" fill="#ff0000"/>
<rect x="602" y="412" width="1" height="6" fill="#ff0000"/>
<rect x="607" y="412" width="1" height="6" fill="#ff0000"/>
<rect x="611" y="412" width="1" height="6" fill="#44cc00"/>
<rect x="615" y="411" width="1" height="7" fill="#ff0000"/>
<rect x="619" y="412" width="1" height="6" fill="#44cc00"/>
<rect x="624" y="414" width="1" height="4" fill="#ff0000"/>
<rect x="628" y="413" width="1" height="5" fill="#44cc00"/>
<rect x="632" y="414" width="1" height="4" fill="#ff0000"/>
<rect x="637" y="413" width="1" height="5" fill="#ff0000"/>
<rect x="641" y="412" width="1" height="6" fill="#ff0000"/>
<rect x="645" y="412" width="1" height="6" fill="#44cc00"/>
<rect x="649" y="415" width="1" height="3" fill="#ff0000"/>
<rect x="654" y="415" width="1" height="3" fill="#44cc00"/>
<rect x="658" y="415" width="1" height="3" fill="#ff0000"/>
<rect x="662" y="413" width="1" height="5" fill="#ff0000"/>
<rect x="666" y="414" width="1" height="4" fill="#ff0000"/>
<rect x="671" y="414" width="1" height="4" fill="#ff0000"/>
<rect x="675" y="413" width="1" height="5" fill="#44cc00"/>
<rect x="679" y="414" width="1" height="4" fill="#ff0000"/>
<rect x="683" y="415" width="1" height="3" fill="#44cc00"/>
<rect x="688" y="414" width="1" height="4" fill="#ff0000"/>
<rect x="692" y="414" width="1" height="4" fill="#44cc00"/>
<rect x="696" y="415" width="1" height="3" fill="#44cc00"/>
<rect x="701" y="415" width="1" height="3" fill="#ff0000"/>
<rect x="705" y="415" width="1" height="3" fill="#ff0000"/>
<rect x="709" y="415" width="1" height="3" fill="#44cc00"/>
<rect x="713" y="415" width="1" height="3" fill="#44cc00"/>
<rect x="718" y="415" width="1" height="3" fill="#ff0000"/>
<rect x="722" y="415" width="1" height="3" fill="#ff0000"/>
<rect x="726" y="415" width="1" height="3" fill="#ff0000"/>
<rect x="731" y="415" width="1" height="3" fill="#ff0000"/>
<rect x="735" y="415" width="1" height="3" fill="#44cc00"/>
<rect x="739" y="414" width="1" height="4" fill="#ff0000"/>
<rect x="743" y="415" width="1" height="3" fill="#44cc00"/>
<rect x="748" y="415" width="1" height="3" fill="#ff0000"/>
<rect x="752" y="415" width="1" height="3" fill="#44cc00"/>
<rect x="756" y="416" width="1" height="2" fill="#ff0000"/>
<rect x="760" y="416" width="1" height="2" fill="#ff0000"/>
<rect x="765" y="415" width="1" height="3" fill="#ff0000"/>
<rect x="769" y="415" width="1" height="3" fill="#ff0000"/>
<rect x="773" y="414" width="1" height="4" fill="#ff0000"/>
<rect x="777" y="414" width="1" height="4" fill="#44cc00"/>
<rect x="782" y="415" width="1" height="3" fill="#44cc00"/>
<rect x="786" y="414" width="1" height="4" fill="#ff0000"/>
<rect x="790" y="413" width="1" height="5" fill="#ff0000"/>
<rect x="795" y="414" width="1" height="4" fill="#44cc00"/>
<rect x="799" y="413" width="1" height="5" fill="#ff0000"/>
<rect x="803" y="415" width="1" height="3" fill="#44cc00"/>
<rect x="807" y="414" width="1" height="4" fill="#ff0000"/>
<rect x="812" y="414" width="1" height="4" fill="#44cc00"/>
<rect x="816" y="414" width="1" height="4" fill="#44cc00"/>
<rect x="820" y="413" width="1" height="5" fill="#ff0000"/>
<rect x="824" y="415" width="1" height="3" fill="#ff0000"/>
<rect x="829" y="414" width="1" height="4" fill="#44cc00"/>
<rect x="833" y="413" width="1" height="5" fill="#44cc00"/>
</g>
<g shape-rendering="crispEdges">
<rect x="145" y="482" width="1" height="6" fill="#8c8c8c"/>
<rect x="222" y="482" width="1" height="6" fill="#8c8c8c"/>
<rect x="320" y="482" width="1" height="6" fill="#8c8c8c"/>
<rect x="410" y="482" width="1" height="6" fill="#8c8c8c"/>
<rect x="500" y="482" width="1" height="6" fill="#8c8c8c"/>
<rect x="594" y="482" width="1" height="6" fill="#8c8c8c"/>
<rect x="683" y="482" width="1" height="6" fill="#8c8c8c"/>
<rect x="782" y="482" width="1" height="6" fill="#8c8c8c"/>
<rect x="871" y="482" width="1" height="6" fill="#8c8c8c"/>
<rect x="957" y="482" width="1" height="6" fill="#8c8c8c"/>
<rect x="1055" y="482" width="1" height="6" fill="#8c8c8c"/>
</g>
<path d="M5.0 466.2C6.9 466.0 8.5 467.5 12.0 465.6C15.5 463.7 14.5 463.3 18.0 459.2C21.5 455.1 21.8 453.3 25.0 450.4C28.2 447.5 27.1 450.5 30.0 448.5C32.9 446.5 32.8 445.4 36.0 442.9C39.2 440.4 39.1 440.1 42.0 439.1C44.9 438.1 44.3 438.3 47.0 439.3C49.7 440.3 49.1 440.1 52.0 442.9C54.9 445.7 55.6 447.5 58.0 449.9C60.4 452.3 58.9 451.5 61.0 452.0C63.1 452.5 63.1 451.9 66.0 451.6C68.9 451.3 69.3 450.2 72.0 451.0C74.7 451.8 73.3 450.8 76.0 454.5C78.7 458.2 79.3 461.2 82.0 465.0C84.7 468.8 83.9 468.6 86.0 468.6C88.1 468.6 87.6 466.6 90.0 465.0C92.4 463.4 92.6 463.2 95.0 462.7C97.4 462.2 96.6 460.2 99.0 463.3C101.4 466.4 101.3 470.2 104.0 474.4C106.7 478.6 106.6 477.6 109.0 479.0C111.4 480.4 110.6 480.2 113.0 479.6C115.4 479.0 115.1 477.0 118.0 476.7C120.9 476.4 120.8 477.0 124.0 478.5C127.2 480.0 127.6 481.2 130.0 482.3C132.4 483.4 130.9 483.2 133.0 482.8C135.1 482.4 134.5 481.2 138.0 480.8C141.5 480.4 142.3 481.5 146.0 481.4C149.7 481.3 148.8 480.9 152.0 480.5C155.2 480.1 154.5 479.7 158.0 480.0C161.5 480.3 161.8 481.1 165.0 481.6C168.2 482.1 166.5 482.2 170.0 482.0C173.5 481.8 174.0 480.7 178.0 480.8C182.0 480.9 181.8 481.8 185.0 482.3C188.2 482.8 187.1 483.0 190.0 482.8C192.9 482.6 193.3 483.0 196.0 481.4C198.7 479.8 197.6 480.4 200.0 476.7C202.4 473.0 202.6 471.9 205.0 467.4C207.4 462.9 206.9 462.4 209.0 459.8C211.1 457.2 210.3 458.3 213.0 457.8C215.7 457.3 216.1 457.8 219.0 458.0C221.9 458.2 221.1 459.1 224.0 458.6C226.9 458.1 227.1 457.4 230.0 456.3C232.9 455.2 232.3 455.9 235.0 454.5C237.7 453.1 237.3 452.9 240.0 451.0C242.7 449.1 242.9 449.0 245.0 447.5C247.1 446.0 246.4 445.5 248.0 445.2C249.6 444.9 248.9 444.4 251.0 446.4C253.1 448.4 253.6 449.3 256.0 452.8C258.4 456.3 257.6 455.4 260.0 459.6C262.4 463.8 262.3 464.1 265.0 468.6C267.7 473.1 267.6 472.8 270.0 476.5C272.4 480.2 271.9 480.5 274.0 482.6C276.1 484.7 276.1 484.3 278.0 484.3C279.9 484.3 278.9 484.6 281.0 482.6C283.1 480.6 283.3 480.4 286.0 476.7C288.7 473.0 288.6 471.2 291.0 468.6C293.4 466.0 292.9 468.1 295.0 467.1C297.1 466.1 296.6 465.5 299.0 464.8C301.4 464.1 301.6 465.5 304.0 464.5C306.4 463.5 305.9 463.3 308.0 461.0C310.1 458.7 309.9 458.3 312.0 455.9C314.1 453.5 314.1 452.2 316.0 452.0C317.9 451.8 316.9 451.6 319.0 455.1C321.1 458.6 321.3 460.4 324.0 465.0C326.7 469.6 326.6 470.6 329.0 472.3C331.4 474.0 330.6 471.9 333.0 471.5C335.4 471.1 335.6 470.1 338.0 470.9C340.4 471.7 339.9 471.9 342.0 474.4C344.1 476.9 343.6 477.9 346.0 480.2C348.4 482.5 348.6 482.2 351.0 483.2C353.4 484.2 352.9 484.3 355.0 484.0C357.1 483.7 356.6 483.8 359.0 482.0C361.4 480.2 361.6 479.5 364.0 477.3C366.4 475.1 365.6 475.7 368.0 473.8C370.4 471.9 370.1 472.8 373.0 470.3C375.9 467.8 376.1 469.0 379.0 464.5C381.9 460.0 381.6 457.9 384.0 453.4C386.4 448.9 385.9 450.6 388.0 447.5C390.1 444.4 390.1 443.4 392.0 441.7C393.9 440.0 393.7 441.1 395.0 441.1C396.3 441.1 395.4 441.4 397.0 441.7C398.6 442.0 398.9 441.0 401.0 442.3C403.1 443.6 402.9 443.3 405.0 446.4C407.1 449.5 406.9 449.3 409.0 454.0C411.1 458.7 410.9 459.1 413.0 463.9C415.1 468.7 414.9 468.7 417.0 472.0C419.1 475.3 418.6 474.1 421.0 476.1C423.4 478.1 423.3 477.8 426.0 479.6C428.7 481.4 428.6 482.6 431.0 482.8C433.4 483.0 432.9 481.5 435.0 480.2C437.1 478.9 436.9 478.7 439.0 478.1C441.1 477.5 440.9 477.4 443.0 478.1C445.1 478.8 444.9 479.4 447.0 480.8C449.1 482.2 448.9 482.6 451.0 483.2C453.1 483.8 452.6 483.8 455.0 483.2C457.4 482.6 457.6 483.1 460.0 480.8C462.4 478.5 461.9 478.9 464.0 474.4C466.1 469.9 465.9 468.9 468.0 463.9C470.1 458.9 469.9 459.3 472.0 455.7C474.1 452.1 474.1 452.3 476.0 450.4C477.9 448.5 477.1 449.0 479.0 448.5C480.9 448.0 480.9 449.6 483.0 448.7C485.1 447.8 484.6 447.1 487.0 445.2C489.4 443.3 489.6 443.2 492.0 441.7C494.4 440.2 493.9 440.2 496.0 439.6C498.1 439.0 497.6 439.0 500.0 439.6C502.4 440.2 502.3 441.5 505.0 441.9C507.7 442.3 507.6 441.9 510.0 441.1C512.4 440.3 511.9 439.3 514.0 438.8C516.1 438.3 516.1 438.2 518.0 439.1C519.9 440.0 519.7 440.1 521.0 442.0C522.3 443.9 521.4 443.1 523.0 446.4C524.6 449.7 524.9 450.2 527.0 454.5C529.1 458.8 528.9 458.3 531.0 462.7C533.1 467.1 532.9 467.0 535.0 470.9C537.1 474.8 536.9 474.7 539.0 477.3C541.1 479.9 540.9 479.2 543.0 480.8C545.1 482.4 544.6 482.3 547.0 483.2C549.4 484.1 549.1 483.5 552.0 484.0C554.9 484.5 554.5 484.7 558.0 484.9C561.5 485.1 561.8 484.9 565.0 484.7C568.2 484.5 567.6 484.7 570.0 484.0C572.4 483.3 571.9 483.5 574.0 482.0C576.1 480.5 575.9 480.5 578.0 478.5C580.1 476.5 579.9 476.5 582.0 474.4C584.1 472.3 583.9 472.4 586.0 470.7C588.1 469.0 587.9 468.8 590.0 468.0C592.1 467.2 591.9 467.4 594.0 467.6C596.1 467.8 595.9 466.9 598.0 468.6C600.1 470.3 599.9 471.0 602.0 473.8C604.1 476.6 603.9 476.7 606.0 479.1C608.1 481.5 607.9 481.5 610.0 482.8C612.1 484.1 611.3 483.7 614.0 484.0C616.7 484.3 616.3 484.1 620.0 484.0C623.7 483.9 624.0 483.5 628.0 483.5C632.0 483.5 631.3 483.8 635.0 484.0C638.7 484.2 639.1 484.7 642.0 484.3C644.9 483.9 643.9 483.7 646.0 482.6C648.1 481.5 648.1 481.6 650.0 480.0C651.9 478.4 651.1 478.0 653.0 476.7C654.9 475.4 654.9 475.4 657.0 475.0C659.1 474.6 658.9 474.4 661.0 475.3C663.1 476.2 662.9 476.7 665.0 478.5C667.1 480.3 667.1 480.6 669.0 482.0C670.9 483.4 669.9 483.1 672.0 483.7C674.1 484.3 674.3 484.2 677.0 484.3C679.7 484.4 679.3 484.4 682.0 484.0C684.7 483.6 684.9 483.7 687.0 482.8C689.1 481.9 688.1 482.4 690.0 480.8C691.9 479.2 691.9 479.0 694.0 476.7C696.1 474.4 696.1 474.0 698.0 472.1C699.9 470.2 699.1 470.4 701.0 469.7C702.9 469.0 702.9 470.1 705.0 469.5C707.1 468.9 707.1 468.7 709.0 467.4C710.9 466.1 710.4 466.7 712.0 464.5C713.6 462.3 713.4 461.9 715.0 459.2C716.6 456.5 716.4 455.7 718.0 454.3C719.6 452.9 719.4 453.8 721.0 453.9C722.6 454.0 722.4 454.5 724.0 454.8C725.6 455.1 725.4 453.9 727.0 455.1C728.6 456.3 728.4 457.9 730.0 459.2C731.6 460.5 731.4 459.5 733.0 459.8C734.6 460.1 734.4 459.4 736.0 460.4C737.6 461.4 737.4 462.8 739.0 463.6C740.6 464.4 740.4 462.6 742.0 463.3C743.6 464.0 743.4 464.2 745.0 466.2C746.6 468.2 746.1 469.2 748.0 470.9C749.9 472.6 749.9 470.9 752.0 472.6C754.1 474.3 754.1 476.2 756.0 477.3C757.9 478.4 757.1 476.2 759.0 476.7C760.9 477.2 761.1 478.2 763.0 479.1C764.9 480.0 764.1 479.8 766.0 480.2C767.9 480.6 767.9 480.3 770.0 480.5C772.1 480.7 771.9 481.5 774.0 480.8C776.1 480.1 775.9 479.3 778.0 477.8C780.1 476.3 780.1 475.9 782.0 475.0C783.9 474.1 783.4 474.2 785.0 474.4C786.6 474.6 786.4 474.3 788.0 475.6C789.6 476.9 789.1 477.4 791.0 479.1C792.9 480.8 793.1 481.7 795.0 482.0C796.9 482.3 796.1 481.8 798.0 480.2C799.9 478.6 799.9 478.3 802.0 476.1C804.1 473.9 803.9 474.6 806.0 472.0C808.1 469.4 807.9 469.9 810.0 466.2C812.1 462.5 812.1 462.1 814.0 458.0C815.9 453.9 815.4 454.4 817.0 451.0C818.6 447.6 818.4 447.2 820.0 445.2C821.6 443.2 821.1 444.0 823.0 443.4C824.9 442.8 825.1 443.4 827.0 443.1C828.9 442.8 828.3 443.0 830.0 442.3C831.7 441.6 832.6 441.0 833.5 440.5" fill="none" stroke="#1496ff" stroke-width="2" stroke-linejoin="round" stroke-linecap="round"/>
<path d="M5.0 469.1C6.7 468.3 7.0 468.0 10.0 466.8C13.0 465.6 10.7 467.4 14.0 465.6C17.3 463.8 16.0 465.2 20.0 461.5C24.0 457.8 22.0 458.4 26.0 454.5C30.0 450.6 27.3 453.4 32.0 449.9C36.7 446.4 35.1 447.3 40.0 444.0C44.9 440.7 42.7 440.9 46.7 439.9C50.7 438.9 48.2 438.9 52.0 441.1C55.8 443.3 54.0 443.3 58.0 446.4C62.0 449.5 60.0 448.7 64.0 450.4C68.0 452.1 66.0 450.8 70.0 451.6C74.0 452.4 72.0 450.3 76.0 452.8C80.0 455.3 78.0 455.1 82.0 459.2C86.0 463.3 84.0 462.9 88.0 465.0C92.0 467.1 90.3 466.0 94.0 465.6C97.7 465.2 95.7 463.3 99.0 463.9C102.3 464.5 100.3 463.5 104.0 467.4C107.7 471.3 106.0 472.0 110.0 475.6C114.0 479.2 112.0 477.4 116.0 478.1C120.0 478.8 118.0 477.2 122.0 477.7C126.0 478.2 124.0 478.4 128.0 479.6C132.0 480.8 130.0 480.9 134.0 481.4C138.0 481.9 136.0 481.4 140.0 481.2C144.0 481.0 142.0 480.8 146.0 480.8C150.0 480.8 147.3 481.3 152.0 481.2C156.7 481.1 154.7 480.4 160.0 480.5C165.3 480.6 163.0 481.0 168.0 481.4C173.0 481.8 170.3 481.8 175.0 481.6C179.7 481.4 177.7 480.7 182.0 480.8C186.3 480.9 184.0 481.4 188.0 482.0C192.0 482.6 190.7 482.6 194.0 482.6C197.3 482.6 195.3 483.2 198.0 482.0C200.7 480.8 199.0 482.0 202.0 479.1C205.0 476.2 203.7 477.9 207.0 473.2C210.3 468.5 209.0 469.3 212.0 465.0C215.0 460.7 213.3 462.6 216.0 460.4C218.7 458.2 216.7 459.2 220.0 458.4C223.3 457.6 222.0 458.4 226.0 458.0C230.0 457.6 228.0 458.3 232.0 457.1C236.0 455.9 234.0 456.5 238.0 454.5C242.0 452.5 240.3 453.1 244.0 451.0C247.7 448.9 246.0 449.2 249.0 448.1C252.0 447.0 250.3 447.4 253.0 447.8C255.7 448.2 254.0 446.7 257.0 449.3C260.0 451.9 259.3 451.6 262.0 455.7C264.7 459.8 262.3 456.8 265.0 461.5C267.7 466.2 266.7 464.4 270.0 469.7C273.3 475.0 272.0 473.6 275.0 477.3C278.0 481.0 276.3 479.2 279.0 480.8C281.7 482.4 280.3 482.2 283.0 482.0C285.7 481.8 284.0 482.5 287.0 480.2C290.0 477.9 288.7 478.5 292.0 475.0C295.3 471.5 294.3 472.3 297.0 469.7C299.7 467.1 297.7 468.5 300.0 467.1C302.3 465.7 301.3 466.7 304.0 465.6C306.7 464.5 305.3 465.4 308.0 463.9C310.7 462.4 309.3 463.5 312.0 461.0C314.7 458.5 313.7 458.4 316.0 456.3C318.3 454.2 317.0 454.8 319.0 454.8C321.0 454.8 319.7 454.1 322.0 456.3C324.3 458.5 323.3 457.8 326.0 461.5C328.7 465.2 327.3 464.3 330.0 467.4C332.7 470.5 331.3 469.3 334.0 470.7C336.7 472.1 335.3 471.1 338.0 471.5C340.7 471.9 339.3 470.8 342.0 472.0C344.7 473.2 343.0 472.5 346.0 475.0C349.0 477.5 347.7 477.1 351.0 479.6C354.3 482.1 353.0 481.5 356.0 482.6C359.0 483.7 357.3 483.2 360.0 482.8C362.7 482.4 361.0 483.4 364.0 481.4C367.0 479.4 365.3 480.0 369.0 476.7C372.7 473.4 371.0 475.2 375.0 471.5C379.0 467.8 377.3 469.7 381.0 465.6C384.7 461.5 382.7 464.1 386.0 459.2C389.3 454.3 388.3 454.9 391.0 451.0C393.7 447.1 391.7 449.8 394.0 447.5C396.3 445.2 395.3 445.7 398.0 444.0C400.7 442.3 399.3 442.4 402.0 442.3C404.7 442.2 403.3 442.1 406.0 443.8C408.7 445.5 407.3 443.7 410.0 447.5C412.7 451.3 411.3 449.6 414.0 455.1C416.7 460.6 415.3 458.6 418.0 463.9C420.7 469.2 419.3 467.0 422.0 470.9C424.7 474.8 423.3 472.9 426.0 475.6C428.7 478.3 427.3 477.4 430.0 479.1C432.7 480.8 431.3 480.3 434.0 480.8C436.7 481.3 435.3 480.9 438.0 480.5C440.7 480.1 439.3 480.1 442.0 479.6C444.7 479.1 443.3 478.8 446.0 479.1C448.7 479.4 447.3 479.5 450.0 480.5C452.7 481.5 451.3 481.3 454.0 482.0C456.7 482.7 455.3 482.8 458.0 482.6C460.7 482.4 459.3 483.2 462.0 481.4C464.7 479.6 463.3 481.2 466.0 477.3C468.7 473.4 467.3 474.8 470.0 469.7C472.7 464.6 471.3 467.0 474.0 462.1C476.7 457.2 475.3 458.6 478.0 455.1C480.7 451.6 479.0 453.9 482.0 451.6C485.0 449.3 483.7 450.2 487.0 448.1C490.3 446.0 488.7 447.3 492.0 445.2C495.3 443.1 494.0 443.3 497.0 441.7C500.0 440.1 498.0 440.7 501.0 440.5C504.0 440.3 502.7 440.9 506.0 441.1C509.3 441.3 507.7 441.4 511.0 441.1C514.3 440.8 513.0 440.5 516.0 440.3C519.0 440.1 517.3 439.5 520.0 440.5C522.7 441.5 521.3 440.5 524.0 443.2C526.7 445.9 525.3 444.3 528.0 448.7C530.7 453.1 529.3 451.2 532.0 456.3C534.7 461.4 533.3 459.0 536.0 463.9C538.7 468.8 537.3 466.6 540.0 470.9C542.7 475.2 541.3 473.4 544.0 476.7C546.7 480.0 545.0 478.6 548.0 480.8C551.0 483.0 549.7 482.0 553.0 483.2C556.3 484.4 554.3 483.7 558.0 484.3C561.7 484.9 560.0 484.8 564.0 484.9C568.0 485.0 566.3 485.3 570.0 484.7C573.7 484.1 571.7 484.7 575.0 483.2C578.3 481.7 576.7 482.6 580.0 480.2C583.3 477.8 581.7 478.8 585.0 476.1C588.3 473.4 587.0 474.2 590.0 472.0C593.0 469.8 591.3 470.6 594.0 469.5C596.7 468.4 595.3 468.3 598.0 468.6C600.7 468.9 599.3 468.2 602.0 470.3C604.7 472.4 603.3 471.9 606.0 475.0C608.7 478.1 607.3 477.1 610.0 479.6C612.7 482.1 611.0 481.2 614.0 482.6C617.0 484.0 615.3 483.2 619.0 483.7C622.7 484.2 620.7 484.0 625.0 484.0C629.3 484.0 627.0 483.7 632.0 483.7C637.0 483.7 635.3 483.9 640.0 484.0C644.7 484.1 642.7 484.4 646.0 484.0C649.3 483.6 647.3 484.2 650.0 482.9C652.7 481.6 651.3 481.9 654.0 480.1C656.7 478.3 655.3 478.8 658.0 477.6C660.7 476.4 659.3 476.7 662.0 476.5C664.7 476.3 663.3 476.0 666.0 477.0C668.7 478.0 667.3 477.9 670.0 479.6C672.7 481.3 671.3 480.7 674.0 482.0C676.7 483.3 675.0 482.8 678.0 483.5C681.0 484.2 679.7 484.0 683.0 484.0C686.3 484.0 685.0 484.2 688.0 483.5C691.0 482.8 689.3 483.5 692.0 482.0C694.7 480.5 693.3 481.2 696.0 479.1C698.7 477.0 697.3 477.9 700.0 475.6C702.7 473.3 701.3 474.3 704.0 472.3C706.7 470.3 705.3 471.4 708.0 469.7C710.7 468.0 709.7 468.8 712.0 467.1C714.3 465.4 713.0 466.5 715.0 464.5C717.0 462.5 716.0 463.2 718.0 461.0C720.0 458.8 719.0 459.8 721.0 458.0C723.0 456.2 722.0 456.8 724.0 455.7C726.0 454.6 725.0 454.6 727.0 454.8C729.0 455.0 727.7 455.2 730.0 456.3C732.3 457.4 731.3 456.6 734.0 458.0C736.7 459.4 735.3 459.3 738.0 460.6C740.7 461.9 739.7 460.7 742.0 461.8C744.3 462.9 742.7 462.2 745.0 463.9C747.3 465.6 746.3 465.1 749.0 466.8C751.7 468.5 750.3 466.8 753.0 469.1C755.7 471.4 754.3 471.6 757.0 473.8C759.7 476.0 758.3 474.3 761.0 475.6C763.7 476.9 762.3 476.6 765.0 477.7C767.7 478.8 766.3 478.1 769.0 478.9C771.7 479.7 770.7 479.7 773.0 480.2C775.3 480.7 773.7 480.7 776.0 480.3C778.3 479.9 777.3 480.1 780.0 479.0C782.7 477.9 781.7 478.0 784.0 477.0C786.3 476.0 785.0 476.2 787.0 475.9C789.0 475.6 787.7 475.4 790.0 476.1C792.3 476.8 791.3 476.7 794.0 477.9C796.7 479.1 795.3 479.2 798.0 479.6C800.7 480.0 799.3 480.3 802.0 479.1C804.7 477.9 803.3 478.5 806.0 476.1C808.7 473.7 807.3 475.3 810.0 472.0C812.7 468.7 811.3 470.5 814.0 466.2C816.7 461.9 815.3 463.9 818.0 459.2C820.7 454.5 819.7 455.9 822.0 452.2C824.3 448.5 823.0 450.4 825.0 448.1C827.0 445.8 826.0 446.8 828.0 445.2C830.0 443.6 829.2 444.4 831.0 443.4C832.8 442.4 832.7 442.7 833.5 442.3" fill="none" stroke="#ff0000" stroke-width="2" stroke-linejoin="round" stroke-linecap="round"/>
<g shape-rendering="crispEdges">
<rect x="1136" y="26" width="6" height="1" fill="#c8c8c8"/>
<rect x="1136" y="71" width="6" height="1" fill="#c8c8c8"/>
<rect x="1136" y="116" width="6" height="1" fill="#c8c8c8"/>
<rect x="1136" y="161" width="6" height="1" fill="#c8c8c8"/>
<rect x="1136" y="206" width="6" height="1" fill="#c8c8c8"/>
<rect x="1136" y="251" width="6" height="1" fill="#c8c8c8"/>
<rect x="1136" y="341" width="6" height="1" fill="#c8c8c8"/>
<rect x="1136" y="379" width="6" height="1" fill="#c8c8c8"/>
<rect x="1136" y="416" width="6" height="1" fill="#c8c8c8"/>
<rect x="1136" y="485" width="6" height="1" fill="#c8c8c8"/>
</g>
<polygon points="1138,295 1144,287 1194,287 1194,303 1144,303" fill="#008000"/>
</svg>
<div class="wm wm1a">economies</div><div class="wm wm1b">.com</div>
<div class="wm wm2">F<i>x</i>NewsToday</div>
<div class="ax" style="left:1143px;top:20px">28.0000</div>
<div class="ax" style="left:1143px;top:65px">26.0000</div>
<div class="ax" style="left:1143px;top:110px">24.0000</div>
<div class="ax" style="left:1143px;top:155px">22.0000</div>
<div class="ax" style="left:1143px;top:200px">20.0000</div>
<div class="ax" style="left:1143px;top:245px">18.0000</div>
<div class="ax" style="left:1143px;top:373px">50M</div>
<div class="ax" style="left:1143px;top:479px">0.0000</div>
<div class="tag" style="left:1144px;top:287px;width:50px;height:16px;padding-left:3px;line-height:15px;color:#fff">16.0600</div>
<div class="tag" style="left:1142px;top:307px;width:52px;height:16px;background:#dec18c;border:1px solid #c9ab74;line-height:14px;padding-left:4px;color:#000">15.2374</div>
<div class="tag" style="left:1141px;top:337px;width:56px;height:18px;background:#ffff00;color:#000;line-height:17px;font-size:11px;text-align:center;padding-left:0" dir="rtl" lang="ar">خطي</div>
<div class="tag" style="left:1142px;top:405px;width:52px;height:16px;background:#3fc60f;color:#000;line-height:15px">4.3989M</div>
<div class="tag" style="left:1142px;top:414px;width:52px;height:16px;background:#1496ff;color:#fff;line-height:15px">89.0777</div>
<div class="tag" style="left:1142px;top:434px;width:52px;height:16px;background:#ff0000;color:#fff;line-height:15px">84.9011</div>
<div class="abs" style="left:1090px;top:250px;width:39px;text-align:right;font-size:13px;line-height:15px;color:#ee3a55">17.23</div>
<div class="abs" style="left:1090px;top:304px;width:39px;text-align:right;font-size:13px;line-height:15px;color:#4169e8">14.83</div>
<div class="lbl" style="left:7px;top:359px;color:#2a2a2a">VOL<span style="color:#5ec40a;margin-left:9px">4.40</span></div>
<div class="lbl" style="left:7px;top:424px;color:#2a2a2a">SlowSTO(3,14,3)<span style="color:#1e90ff;margin-left:10px">K:89.08</span><span style="color:#ff1030;margin-left:8px">D:84.90</span></div>
<div class="abs" style="left:74px;top:488px;width:12px;height:12px;overflow:hidden"><div class="ax" style="left:-18px;top:0">May</div></div>
<div class="ax" style="left:147px;top:488px">Jun</div>
<div class="ax" style="left:224px;top:488px">Jul</div>
<div class="ax" style="left:322px;top:488px">Aug</div>
<div class="ax" style="left:412px;top:488px">Sep</div>
<div class="ax" style="left:502px;top:488px">Oct</div>
<div class="ax" style="left:596px;top:488px">Nov</div>
<div class="ax" style="left:685px;top:488px">Dec</div>
<div class="ax" style="left:784px;top:488px">2026Jan</div>
<div class="ax" style="left:873px;top:488px">Feb</div>
<div class="ax" style="left:959px;top:488px">Mar</div>
<div class="ax" style="left:1057px;top:488px">Apr</div>
</body></html>
